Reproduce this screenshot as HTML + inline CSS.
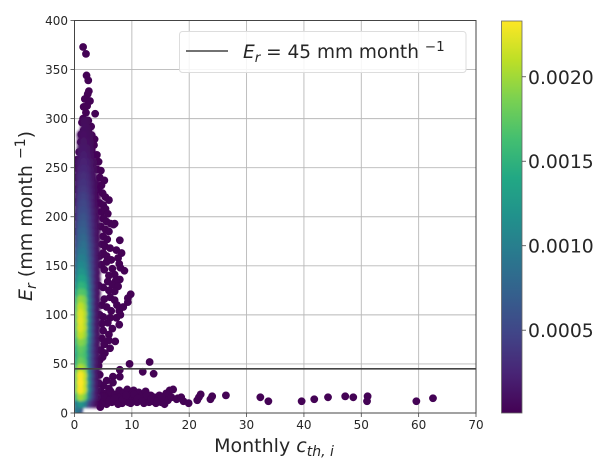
<!DOCTYPE html>
<html>
<head>
<meta charset="utf-8">
<title>Er vs monthly cth,i density scatter</title>
<style>
html,body{margin:0;padding:0;background:#fff;width:609px;height:471px;overflow:hidden}
svg{display:block}
text{font-family:"DejaVu Sans","Liberation Sans",sans-serif;fill:#262626}
</style>
</head>
<body>
<svg id="chart" xmlns="http://www.w3.org/2000/svg" width="609" height="471" viewBox="0 0 609 471">
  <defs>
    <linearGradient id="viridis-grad" x1="0" y1="1" x2="0" y2="0"></linearGradient>
    <clipPath id="plot-clip"><rect x="74.5" y="20.5" width="401.5" height="392.5"></rect></clipPath>
    <filter id="soft" x="-20%" y="-10%" width="140%" height="120%"><feGaussianBlur stdDeviation="1.3"></feGaussianBlur></filter>
  </defs>
  <g id="grid"></g>
  <g id="marks" clip-path="url(#plot-clip)">
    <g id="sparse"></g>
    <g id="core" filter="url(#soft)"></g>
  </g>
  <line id="ref-line" stroke="#444" stroke-width="1.6"></line>
  <rect x="74.5" y="20.5" width="401.5" height="392.5" fill="none" stroke="#444" stroke-width="1"></rect>
  <g id="x-ticks"></g>
  <g id="y-ticks"></g>

  <text x="274" y="452" text-anchor="middle" font-size="19">Monthly <tspan font-style="italic">c</tspan><tspan font-style="italic" font-size="14" dy="4">th, i</tspan></text>
  <text transform="translate(32,216) rotate(-90)" text-anchor="middle" font-size="19"><tspan font-style="italic">E</tspan><tspan font-style="italic" font-size="14" dy="4">r</tspan><tspan dy="-4"> (mm month </tspan><tspan font-size="14" dy="-7">−1</tspan><tspan dy="7">)</tspan></text>

  <g>
    <rect x="179.5" y="31.5" width="286.5" height="41" rx="3" fill="#fff" fill-opacity="0.85" stroke="#ddd" stroke-width="1"></rect>
    <line x1="186" y1="51" x2="228" y2="51" stroke="#444" stroke-width="1.6"></line>
    <text x="243" y="58" font-size="18.5"><tspan font-style="italic">E</tspan><tspan font-style="italic" font-size="13.5" dy="4">r</tspan><tspan dy="-4"> = 45 mm month </tspan><tspan font-size="13.5" dy="-7">−1</tspan></text>
  </g>

  <g>
    <rect x="501.5" y="21" width="20.5" height="392" fill="url(#viridis-grad)" stroke="#666" stroke-width="0.8"></rect>
    <g id="cbar-ticks"></g>
  </g>
</svg>
<script>
// Axis ticks
var xTickValues = [0, 10, 20, 30, 40, 50, 60, 70];
var yTickValues = [0, 50, 100, 150, 200, 250, 300, 350, 400];
var colorbarTickLabels = ['0.0005', '0.0010', '0.0015', '0.0020'];
var colorbarTickValues = [5, 10, 15, 20];
var referenceEr = [45];

// Density limits, in units of 1e-4
var densityMin = [0.1];
var densityMax = [23.3];

// Dense core: grid of points (x, Er) with estimated density in units of 1e-4
var coreX = [0.4, 1.0, 1.6, 2.2, 2.8, 3.4, 4.0];
var coreY = [10,17,24,31,38,45,52,59,66,73,80,87,94,101,108,115,122,129,136,143,150,157,164,171,178,185,192,199,206,213,220,227,234,241,248,255,262,269,276,283,290,297];
var coreDensity = [
[9,12,10,5,2.5,1,0.3],
[15,20,18,10,5,2,0.5],
[18,23,21,12,6,2,0.5],
[18,23.3,21,12.5,6,2,0.5],
[18,23,21,12,6,2,0.5],
[16,20.5,19,11,5.5,2,0.5],
[14,18,17,10,5,2,0.5],
[13,17,16,10,5,2,0.5],
[14,17.5,16.5,10,5,2,0.5],
[15,19,18,11,5.5,2,0.5],
[16,21,19.5,12,6,2,0.5],
[17,22,20.5,12,6,2,0.5],
[17,22.3,20.5,12.5,6,2,0.5],
[17,22,20.5,12.5,6,2,0.5],
[16,21,19.5,12,6,2,0.5],
[15,19.5,18.5,11.5,6,2,0.6],
[13,17,16.5,11,5.5,2,0.6],
[11,15,14.5,10,5.5,2,0.6],
[9.5,13.5,13,9.5,5,2,0.6],
[8.5,12,11.5,8.5,5,2,0.6],
[7.5,11,10.5,8,4.5,2,0.6],
[6.5,10,9.8,7.5,4.5,2,0.6],
[6,9,9.2,7,4.2,2,0.6],
[5,8,8.5,6.5,4,1.8,0.6],
[4.5,7.5,7.8,6,3.6,1.7,0.5],
[4,7,7.2,5.5,3.4,1.6,0.5],
[3.5,6.3,6.6,5,3.2,1.5,0.5],
[3,5.7,6,4.8,3,1.4,0.4],
[2.6,5.1,5.4,4.4,2.7,1.2,0.4],
[2.2,4.6,4.9,4,2.4,1.1,0.3],
[1.9,4.1,4.4,3.6,2.2,1,0.3],
[1.6,3.6,3.9,3.2,2,0.9,0.3],
[1.4,3.2,3.5,2.9,1.8,0.8,0.3],
[1.2,2.8,3.1,2.6,1.6,0.7,0],
[1,2.4,2.7,2.3,1.4,0.6,0],
[0.8,2,2.3,2,1.2,0.5,0],
[0,1.7,1.9,1.6,1,0.4,0],
[0,1.4,1.6,1.3,0.8,0,0],
[0,1.1,1.3,1.1,0.6,0,0],
[0,0.9,1.1,0.9,0.5,0,0],
[0,0,0.9,0.7,0,0,0],
[0,0,0.7,0.5,0,0,0]
];

// Extra core points near the origin: x, Er, density
var originX = [0.4, 0.9];
var originY = [3, 3];
var originDensity = [9, 6];

// Sparse low-density points as [x, Er]
var sparsePoints = [
[1.5,373],[2.0,366],[2.1,344],[2.4,339],[2.5,328],[2.3,325],[1.8,320],[2.7,318],[1.6,312],[2.2,313],[2.0,306],[3.6,305],
[1.5,300],[2.4,298],[1.3,296],[2.0,293],[2.9,292],[1.6,288],[2.4,287],[1.2,284],[3.0,283],[3.5,279],[1.8,280],[2.6,278],
[1.1,276],[3.4,273],[2.2,272],[1.5,270],[3.0,268],[0.8,266],[3.9,263],[4.2,256],[0.4,258],[1.2,262],[2.4,262],[3.4,255],
[4.6,247],[0.3,250],[4.0,248],[0.3,240],[4.4,240],[5.2,237],[4.7,232],[4.2,228],[0.3,228],[4.9,224],[5.4,220],[6.0,217],
[4.4,214],[5.0,212],[0.3,215],[5.4,208],[4.7,205],[5.8,203],[0.3,200],[5.0,198],[5.6,195],[6.3,193],[7.0,193],[6.8,192],
[4.6,190],[5.4,187],[6.0,185],[0.3,185],[5.0,180],[5.7,177],[7.9,176],[4.8,172],[5.3,170],[6.2,168],[7.3,166],[8.2,163],
[5.0,163],[5.6,160],[7.6,158],[6.4,156],[5.6,154],[4.7,151],[7.8,152],[8.0,148],[8.7,145],[6.6,147],[5.2,146],[7.0,141],
[6.0,140],[7.9,136],[7.2,135],[5.8,134],[6.6,131],[7.6,129],[5.0,128],[6.0,125],[7.0,124],[9.8,121],[6.2,118],[9.3,117],
[5.2,116],[7.0,115],[9.3,113],[4.8,110],[5.6,108],[8.5,108],[7.4,110],[7.8,104],[6.4,104],[8.0,100],[7.3,97],[5.0,98],
[6.2,97],[5.8,92],[7.8,90],[4.8,91],[6.6,86],[5.0,84],[6.0,80],[7.1,73],[6.0,74],[4.8,76],[5.2,70],[6.2,66],[5.3,61],
[4.6,64],[4.4,54],[4.9,57],[4.2,48],[9.6,50],[13.1,52],[11.9,42],[13.8,40],[7.9,44],[4.4,39],[6.7,37],[7.9,37],[6.7,31],
[5.6,33],[5.0,28],[6.0,25],[4.6,22],[5.2,20],[5.8,18],[4.4,14],[5.1,12],[5.6,9],[4.5,6],[4.8,9],[4.3,30],[4.4,100],[4.2,130],[4.4,160],
[6.3,22],[6.8,15],[6.5,11],[7.1,19],[7.4,12],[7.8,23],[8.0,16],[8.3,10],[8.6,21],[8.9,14],[9.2,24],[9.4,11],[9.7,18],
[10.0,13],[10.3,23],[10.6,16],[10.9,11],[11.2,21],[11.5,13],[11.8,18],[12.1,10],[12.4,22],[12.7,14],[13.0,11],[13.3,18],
[13.6,12],[13.9,16],[14.2,10],[14.5,14],[14.8,18],[15.1,11],[15.4,14],[15.7,9],[16.0,20],[16.3,13],[16.6,23],[16.9,16],
[5.4,15],[6.0,13],[7.0,15],[7.6,9],[8.4,14],[9.0,18],[9.8,10],[10.4,19],[11.0,15],[11.8,12],[12.6,18],[13.4,14],[14.4,12],[15.2,16],[5.0,17],
[17.2,24],[17.8,14],[18.0,15],[18.6,16],[19.0,12],[19.9,10],[21.4,13],[21.7,16],[22.0,19],[23.7,14],[24.0,17],[26.4,18],
[32.4,16],[33.8,12],[39.6,12],[41.8,14],[44.2,16],[47.2,17],[48.6,16],[51.1,17],[51.0,12],[59.6,12],[62.5,15]
];

// Viridis colour stops
var viridisStops = ['#440154','#482475','#414487','#355f8d','#2a788e','#21918c','#22a884','#44bf70','#7ad151','#bddf26','#fde725'];

var NS = 'http://www.w3.org/2000/svg';
function xScale(v) { return 74.5 + v * (476 - 74.5) / 70; }
function yScale(v) { return 413 - v * (413 - 20.5) / 400; }
function cbarScale(v) { return 413 - (v - densityMin[0]) * (413 - 21) / (densityMax[0] - densityMin[0]); }
function hexToRgb(h) { return [parseInt(h.substr(1, 2), 16), parseInt(h.substr(3, 2), 16), parseInt(h.substr(5, 2), 16)]; }
function colorFor(d) {
  var t = Math.max(0, Math.min(1, (d - densityMin[0]) / (densityMax[0] - densityMin[0])));
  var p = t * (viridisStops.length - 1);
  var i = Math.min(viridisStops.length - 2, Math.floor(p));
  var f = p - i;
  var a = hexToRgb(viridisStops[i]);
  var b = hexToRgb(viridisStops[i + 1]);
  return 'rgb(' + Math.round(a[0] + (b[0] - a[0]) * f) + ',' + Math.round(a[1] + (b[1] - a[1]) * f) + ',' + Math.round(a[2] + (b[2] - a[2]) * f) + ')';
}
function svgEl(tag, attrs, parent) {
  var el = document.createElementNS(NS, tag);
  for (var k in attrs) { el.setAttribute(k, attrs[k]); }
  parent.appendChild(el);
  return el;
}

var gradient = document.getElementById('viridis-grad');
viridisStops.forEach(function (c, i) {
  svgEl('stop', { offset: (i / (viridisStops.length - 1)), 'stop-color': c }, gradient);
});

var grid = document.getElementById('grid');
var xTicks = document.getElementById('x-ticks');
xTickValues.forEach(function (v) {
  var x = xScale(v);
  var g = svgEl('line', { x1: x, x2: x, y1: 20.5, y2: 413, stroke: '#b8b8b8', 'stroke-width': 0.9 }, grid);
  
  
  var t = svgEl('line', { x1: x, x2: x, y1: 413, y2: 417, stroke: '#444', 'stroke-width': 0.8 }, xTicks);
  
  
  var l = svgEl('text', { x: x, y: 429, 'text-anchor': 'middle', 'font-size': 12 }, xTicks);
  l.textContent = String(v);
  
  
});

var yTicks = document.getElementById('y-ticks');
yTickValues.forEach(function (v) {
  var y = yScale(v);
  var g = svgEl('line', { x1: 74.5, x2: 476, y1: y, y2: y, stroke: '#b8b8b8', 'stroke-width': 0.9 }, grid);
  
  
  var t = svgEl('line', { x1: 70.5, x2: 74.5, y1: y, y2: y, stroke: '#444', 'stroke-width': 0.8 }, yTicks);
  
  
  var l = svgEl('text', { x: 68, y: y + 4.3, 'text-anchor': 'end', 'font-size': 12 }, yTicks);
  l.textContent = String(v);
  
  
});

var sparse = document.getElementById('sparse');
sparsePoints.forEach(function (p) {
  var c = svgEl('circle', { cx: xScale(p[0]), cy: yScale(p[1]), r: 3.9, fill: colorFor(0.2) }, sparse);
  
  
});

var corePts = [];
coreY.forEach(function (yv, r) {
  coreX.forEach(function (xv, i) {
    var d = coreDensity[r][i];
    if (d > 0) { corePts.push([xv, yv, d]); }
  });
});
originX.forEach(function (xv, i) { corePts.push([xv, originY[i], originDensity[i]]); });
corePts.sort(function (a, b) { return a[2] - b[2]; });
var core = document.getElementById('core');
corePts.forEach(function (p) {
  var c = svgEl('ellipse', { cx: xScale(p[0]), cy: yScale(p[1]), rx: 3.5, ry: 5, fill: colorFor(p[2]) }, core);
  
  
});

var refLine = document.getElementById('ref-line');
refLine.setAttribute('x1', xScale(0));
refLine.setAttribute('x2', xScale(70));
refLine.setAttribute('y1', yScale(referenceEr[0]));
refLine.setAttribute('y2', yScale(referenceEr[0]));

var cbarTicks = document.getElementById('cbar-ticks');
colorbarTickValues.forEach(function (v, i) {
  var y = cbarScale(v);
  var t = svgEl('line', { x1: 522, x2: 526, y1: y, y2: y, stroke: '#444', 'stroke-width': 0.8 }, cbarTicks);
  
  
  var l = svgEl('text', { x: 528, y: y + 7, 'font-size': 18.8 }, cbarTicks);
  l.textContent = colorbarTickLabels[i];
  
  
});
</script>
</body>
</html>
